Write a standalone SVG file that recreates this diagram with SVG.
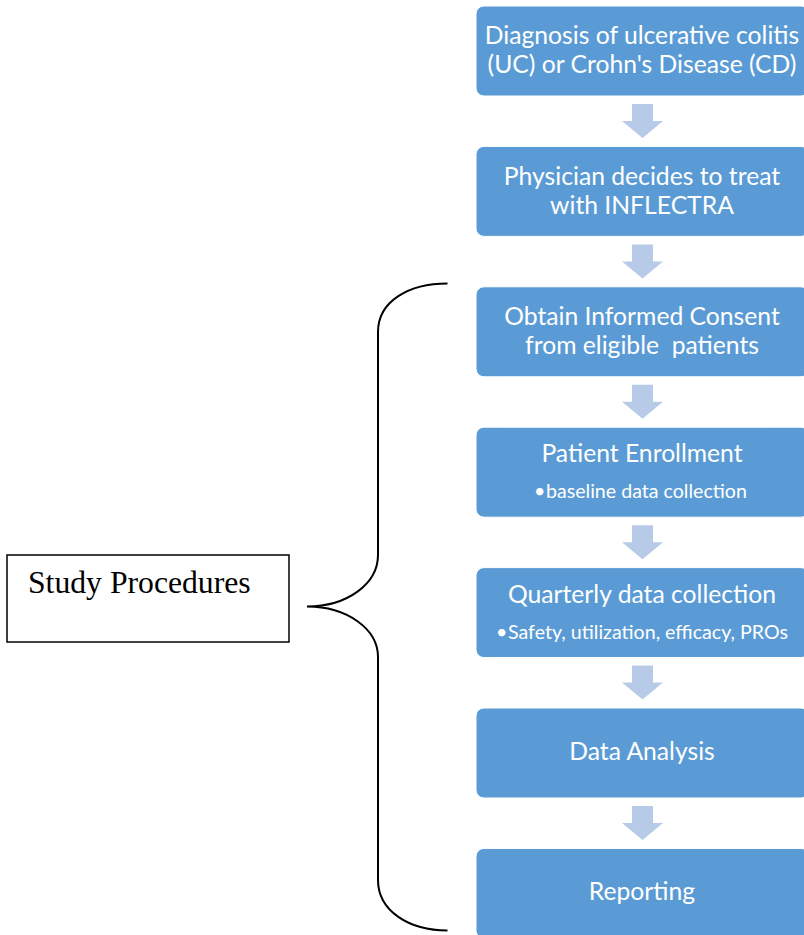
<svg xmlns="http://www.w3.org/2000/svg" width="804" height="935" viewBox="0 0 804 935">
<style>
.box{fill:#5B9BD5;stroke:#FFFFFF;stroke-width:1}
.t{font-family:Lato,"Open Sans",sans-serif;font-size:24.7px;fill:#FFFFFF;text-anchor:middle}
.b{font-family:Lato,"Open Sans",sans-serif;font-size:19.6px;fill:#FFFFFF}
.arr{fill:#B7CBE8}
.brace{fill:none;stroke:#000000;stroke-width:2}
.lbl{fill:#FFFFFF;stroke:#000000;stroke-width:1.5}
.lt{font-family:"Liberation Serif","Times New Roman",serif;font-size:31.7px;fill:#000000}
</style>
<rect width="804" height="935" fill="#FFFFFF"/>
<g id="connectors">
<polygon class="arr" points="632,104 653,104 653,121 663,121 642.5,138 622,121 632,121"/>
<polygon class="arr" points="632,244.4 653,244.4 653,261.4 663,261.4 642.5,278.4 622,261.4 632,261.4"/>
<polygon class="arr" points="632,384.8 653,384.8 653,401.8 663,401.8 642.5,418.8 622,401.8 632,401.8"/>
<polygon class="arr" points="632,525.2 653,525.2 653,542.2 663,542.2 642.5,559.2 622,542.2 632,542.2"/>
<polygon class="arr" points="632,665.6 653,665.6 653,682.6 663,682.6 642.5,699.6 622,682.6 632,682.6"/>
<polygon class="arr" points="632,806 653,806 653,823 663,823 642.5,840 622,823 632,823"/>
<path id="brace" class="brace" d="M447.5,283.5 C409,283.5 378,301 378,332 L378,555 C378,584 347,606.5 307,606.5 C347,606.5 378,629 378,657 L378,880 C378,911 409,930.5 447.5,930.5"/>
</g>
<g id="n1">
<rect class="box" x="476" y="6" width="333" height="90" rx="8"/>
<text class="t" x="642" y="44">Diagnosis of ulcerative colitis</text>
<text class="t" x="642" y="73">(UC) or Crohn's Disease (CD)</text>
</g>
<g id="n2">
<rect class="box" x="476" y="146.4" width="333" height="90" rx="8"/>
<text class="t" x="642" y="184.5">Physician decides to treat</text>
<text class="t" x="642" y="213.5">with INFLECTRA</text>
</g>
<g id="n3">
<rect class="box" x="476" y="286.8" width="333" height="90" rx="8"/>
<text class="t" x="642" y="325">Obtain Informed Consent</text>
<text class="t" x="642" y="354" xml:space="preserve">from eligible  patients</text>
</g>
<g id="n4">
<rect class="box" x="476" y="427.2" width="333" height="90" rx="8"/>
<text class="t" x="642" y="462">Patient Enrollment</text>
<text class="b" x="534" y="498">•</text>
<text class="b" x="546" y="498">baseline data collection</text>
</g>
<g id="n5">
<rect class="box" x="476" y="567.6" width="333" height="90" rx="8"/>
<text class="t" x="642" y="603">Quarterly data collection</text>
<text class="b" x="496" y="639">•</text>
<text class="b" x="508" y="639">Safety, utilization, efficacy, PROs</text>
</g>
<g id="n6">
<rect class="box" x="476" y="708" width="333" height="90" rx="8"/>
<text class="t" x="642" y="760">Data Analysis</text>
</g>
<g id="n7">
<rect class="box" x="476" y="848.4" width="333" height="90" rx="8"/>
<text class="t" x="642" y="900">Reporting</text>
</g>
<g id="study">
<rect class="lbl" x="7" y="555" width="282" height="87"/>
<text class="lt" x="28" y="593">Study Procedures</text>
</g>
</svg>
